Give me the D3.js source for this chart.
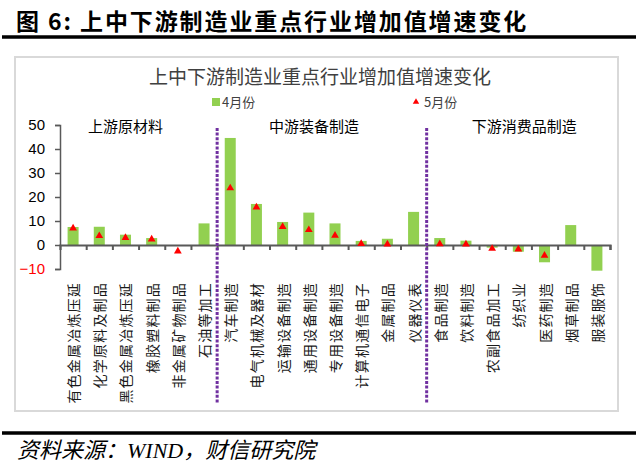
<!DOCTYPE html>
<html>
<head>
<meta charset="utf-8">
<script src="https://cdn.jsdelivr.net/npm/d3@7"></script>
<style>
  body { margin: 0; background: #fff; }
  svg { display: block; }
</style>
</head>
<body>
<div id="chart"></div>
<script>
// categories and values
var categories = ['有色金属冶炼压延', '化学原料及制品', '黑色金属冶炼压延', '橡胶塑料制品', '非金属矿物制品', '石油等加工',
  '汽车制造', '电气机械及器材', '运输设备制造', '通用设备制造', '专用设备制造', '计算机通信电子', '金属制品', '仪器仪表',
  '食品制造', '饮料制造', '农副食品加工', '纺织业', '医药制造', '烟草制品', '服装服饰'];
var april = [7.5, 7.6, 4.3, 2.9, null, 9.0, 44.6, 17.1, 9.6, 13.5, 9.0, 1.7, 2.6, 13.8, 2.9, 1.8, -1.1, -2.8, -7.2, 8.3, -10.7];
var may = [7.0, 3.8, 3.0, 2.4, -2.6, null, 23.7, 15.7, 7.6, 6.3, 4.0, 0.5, 0.3, null, 0.4, 0.3, -1.5, -1.8, -4.4, null, null];
var yTicks = [-10, 0, 10, 20, 30, 40, 50];
var groups = ['上游原材料', '中游装备制造', '下游消费品制造'];
var dividers = ['汽车制造', '食品制造'];

var width = 640, height = 466;
var margin = {left: 60, right: 30, top: 125};

var svg = d3.select('#chart')
  .append('svg')
  .attr('width', width)
  .attr('height', height);

// header
svg.append('text')
  .attr('x', 16)
  .attr('y', 30)
  .style('font-family', '"Noto Sans CJK SC", sans-serif')
  .style('font-weight', '700')
  .style('font-size', '23px')
  .style('letter-spacing', '1.9px')
  .style('fill', '#000')
  .text('图 6:  上中下游制造业重点行业增加值增速变化');

svg.append('line')
  .attr('x1', 2).attr('x2', 636)
  .attr('y1', 37).attr('y2', 37)
  .style('stroke', '#000')
  .style('stroke-width', 3.5);

// chart frame
svg.append('rect')
  .attr('x', 15).attr('y', 57)
  .attr('width', 603).attr('height', 354)
  .style('fill', '#fff')
  .style('stroke', '#d9d9d9')
  .style('stroke-width', 2);

svg.append('text')
  .attr('x', 320)
  .attr('y', 84)
  .attr('text-anchor', 'middle')
  .style('font-family', '"Noto Sans CJK SC", sans-serif')
  .style('font-size', '19px')
  .style('fill', '#404040')
  .text('上中下游制造业重点行业增加值增速变化');

// legend
var legend = svg.append('g')
  .style('font-family', '"Noto Sans CJK SC", sans-serif')
  .style('font-size', '13px')
  .style('fill', '#404040');

legend.append('rect')
  .attr('x', 212).attr('y', 98)
  .attr('width', 8).attr('height', 8)
  .style('fill', '#92d050');
legend.append('text')
  .attr('x', 222).attr('y', 107)
  .text('4月份');

legend.append('path')
  .attr('d', d3.symbol().type(d3.symbolTriangle).size(18)())
  .attr('transform', 'translate(416,102)')
  .style('fill', '#ff0000');
legend.append('text')
  .attr('x', 424).attr('y', 107)
  .text('5月份');

// scales
var xScale = d3.scaleBand()
  .domain(categories)
  .range([margin.left, 610])
  .padding(0);

var yScale = d3.scaleLinear()
  .domain([-10, 50])
  .range([269, 125]);

var barW = xScale.bandwidth() * 0.42;

// Y axis
var yAxis = d3.axisLeft(yScale)
  .tickValues(yTicks)
  .tickSize(5)
  .tickPadding(10);

var yG = svg.append('g')
  .attr('transform', `translate(${margin.left},0)`)
  .attr('class', 'y-axis')
  .call(yAxis);

yG.select('.domain').style('stroke', '#595959').style('stroke-width', 1.5);
yG.selectAll('.tick line').style('stroke', '#595959').style('stroke-width', 1.5);
yG.selectAll('.tick text')
  .style('font-family', '"Liberation Sans", Arial, sans-serif')
  .style('font-size', '15px')
  .style('fill', d => d < 0 ? '#ff0000' : '#000');

// bars
svg.append('g')
  .selectAll('rect')
  .data(categories.map((c, i) => ({c: c, v: april[i]})).filter(d => d.v != null))
  .enter()
  .append('rect')
  .attr('x', d => xScale(d.c) + (xScale.bandwidth() - barW) / 2)
  .attr('y', d => yScale(Math.max(0, d.v)))
  .attr('width', barW)
  .attr('height', d => Math.abs(yScale(d.v) - yScale(0)))
  .style('fill', '#92d050');

// X axis with ticks at category boundaries
var xAxis = d3.axisBottom(d3.scaleLinear().domain([0, categories.length]).range([margin.left, 610]))
  .tickValues(d3.range(1, categories.length + 1))
  .tickSize(5)
  .tickFormat('');

var xG = svg.append('g')
  .attr('transform', `translate(0,${yScale(0)})`)
  .call(xAxis);
xG.select('.domain').style('stroke', '#595959').style('stroke-width', 2.2);
xG.selectAll('.tick line').style('stroke', '#595959').style('stroke-width', 2);

// triangles
svg.append('g')
  .selectAll('path')
  .data(categories.map((c, i) => ({c: c, v: may[i]})).filter(d => d.v != null))
  .enter()
  .append('path')
  .attr('d', d3.symbol().type(d3.symbolTriangle).size(26)())
  .attr('transform', d => `translate(${xScale(d.c) + xScale.bandwidth() / 2},${yScale(d.v)})`)
  .style('fill', '#ff0000');

// dividers
svg.append('g')
  .selectAll('line')
  .data(dividers)
  .enter()
  .append('line')
  .attr('x1', d => xScale(d)).attr('x2', d => xScale(d))
  .attr('y1', 128).attr('y2', 404)
  .style('stroke', '#7030a0')
  .style('stroke-width', 3)
  .style('stroke-dasharray', '3,1.6');

// group labels
var groupX = [xScale('黑色金属冶炼压延') + xScale.bandwidth() / 2,
  xScale('专用设备制造') - 8,
  xScale('纺织业') + xScale.bandwidth() / 2 + 6];
svg.append('g')
  .selectAll('text')
  .data(groups)
  .enter()
  .append('text')
  .attr('x', (d, i) => groupX[i])
  .attr('y', 132)
  .attr('text-anchor', 'middle')
  .style('font-family', '"Noto Sans CJK SC", sans-serif')
  .style('font-size', '15px')
  .style('fill', '#000')
  .text(d => d);

// rotated category labels, reading bottom to top
svg.append('g')
  .selectAll('text')
  .data(categories)
  .enter()
  .append('text')
  .attr('text-anchor', 'end')
  .attr('dominant-baseline', 'central')
  .attr('transform', d => `translate(${xScale(d) + xScale.bandwidth() / 2},282) rotate(-90)`)
  .style('font-family', '"Noto Sans CJK SC", sans-serif')
  .style('font-size', '14px')
  .style('letter-spacing', '1.2px')
  .style('fill', '#1a1a1a')
  .text(d => d);

// footer
svg.append('line')
  .attr('x1', 2).attr('x2', 636)
  .attr('y1', 433).attr('y2', 433)
  .style('stroke', '#000')
  .style('stroke-width', 3.5);

svg.append('text')
  .attr('x', 17)
  .attr('y', 458)
  .style('font-family', '"Liberation Serif", "Noto Sans CJK SC", serif')
  .style('font-style', 'italic')
  .style('font-size', '22px')
  .style('fill', '#000')
  .text('资料来源：WIND，财信研究院');
</script>
</body>
</html>
